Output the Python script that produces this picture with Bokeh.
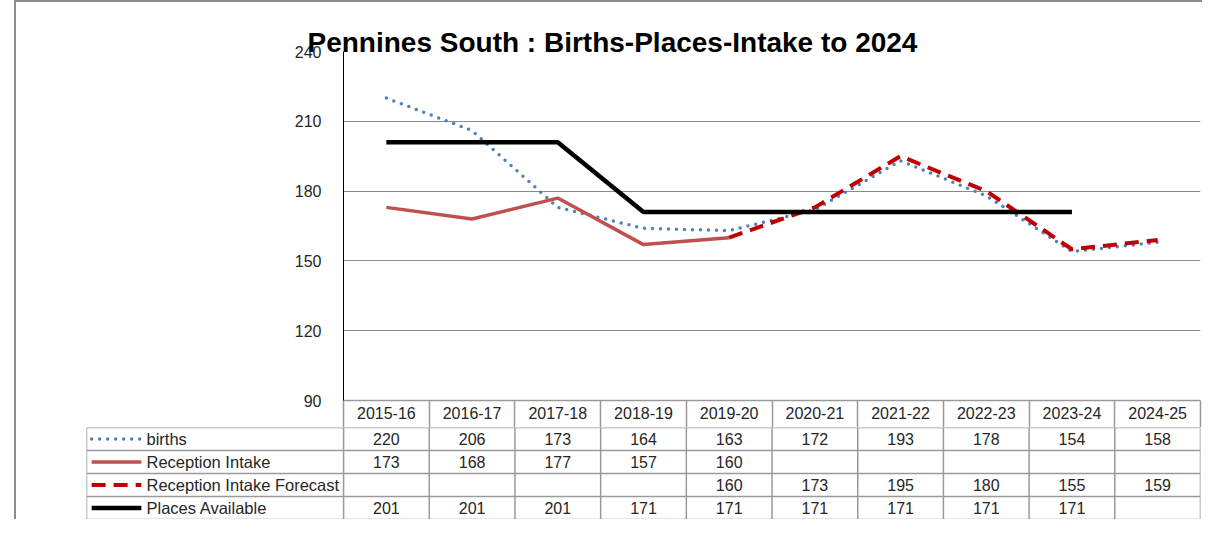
import numpy as np
from bokeh.plotting import figure
from bokeh.models import Range1d, FixedTicker, Spacer
from bokeh.layouts import column, row
from bokeh.embed import file_html
from bokeh.resources import INLINE
from bokeh.core.properties import value

# ---- data ----
periods = ["2015-16", "2016-17", "2017-18", "2018-19", "2019-20",
           "2020-21", "2021-22", "2022-23", "2023-24", "2024-25"]
births = [220, 206, 173, 164, 163, 172, 193, 178, 154, 158]
intake = [173, 168, 177, 157, 160, None, None, None, None, None]
forecast = [None, None, None, None, 160, 173, 195, 180, 155, 159]
places = [201, 201, 201, 171, 171, 171, 171, 171, 171, None]
y_ticks = [90, 120, 150, 180, 210, 240]
series_names = ["births", "Reception Intake", "Reception Intake Forecast", "Places Available"]
title_text = "Pennines South : Births-Places-Intake to 2024"

FONT = "Liberation Sans"
TXT = "#262626"
GRID = "#8a8a8a"
TGRID = "#9a9a9a"

styles = [
    dict(line_color="#4F81BD", line_width=3.5, line_dash="0 8", line_cap="round"),
    dict(line_color="#C0504D", line_width=3.5),
    dict(line_color="#C00000", line_width=4, line_dash="14 8"),
    dict(line_color="#000000", line_width=4.5),
]
series = [births, intake, forecast, places]

n = len(periods)
xc = [i + 0.5 for i in range(n)]           # centre of each period column
bounds = list(range(n + 1))                # column boundaries


def arr(v):
    return np.array([np.nan if x is None else x for x in v], dtype=float)


def no_frame_align(fig):
    if "frame_align" in fig.properties():
        fig.frame_align = False


W = 1186
# ---- main chart (with header row of the data table as its x axis) ----
p = figure(width=W, height=425, x_range=Range1d(0, n), y_range=Range1d(90, 240),
           output_backend="svg", toolbar_location=None,
           min_border_left=327, min_border_right=2, min_border_top=49, min_border_bottom=27)
no_frame_align(p)
p.xgrid.visible = False
p.ygrid.grid_line_color = GRID
p.ygrid.grid_line_width = 1
p.yaxis.ticker = FixedTicker(ticks=y_ticks)
p.yaxis.axis_line_color = "#000000"
p.yaxis.major_tick_line_color = None
p.yaxis.minor_tick_line_color = None
p.yaxis.major_label_text_font = FONT
p.yaxis.major_label_text_font_size = "16px"
p.yaxis.major_label_text_color = TXT
p.yaxis.major_label_standoff = 16

p.xaxis.ticker = FixedTicker(ticks=xc, minor_ticks=bounds)
p.xaxis.major_label_overrides = {x: lab for x, lab in zip(xc, periods)}
p.xaxis.major_tick_line_color = None
p.xaxis.major_tick_out = 0
p.xaxis.major_tick_in = 0
p.xaxis.minor_tick_line_color = TGRID
p.xaxis.minor_tick_line_width = 1.5
p.xaxis.minor_tick_out = 27
p.xaxis.minor_tick_in = 0
p.xaxis.axis_line_color = TGRID
p.xaxis.axis_line_width = 1.5
p.xaxis.major_label_standoff = -21
p.xaxis.major_label_text_font = FONT
p.xaxis.major_label_text_font_size = "16px"
p.xaxis.major_label_text_color = TXT

p.outline_line_color = None
p.background_fill_color = "white"
p.border_fill_color = "white"

p.title.text = title_text
p.title.align = "left"
p.title.offset = -36
p.title.standoff = -12
p.title.text_font = FONT
p.title.text_font_style = "bold"
p.title.text_font_size = "28px"
p.title.text_color = "#000000"

for s, st in zip(series, styles):
    p.line(x=xc, y=arr(s), **st)

# ---- data table body ----
nr = len(series)
t_h = 92
t = figure(width=W, height=t_h, x_range=Range1d(-3, n), y_range=Range1d(nr, 0),
           output_backend="svg", toolbar_location=None, x_axis_type=None, y_axis_type=None,
           min_border_left=70, min_border_right=2, min_border_top=0, min_border_bottom=0)
no_frame_align(t)
t.grid.visible = False
t.outline_line_color = None
t.border_fill_color = "white"

hy = list(range(nr + 1))
t.segment(x0=[-3] * len(hy), y0=hy, x1=[n] * len(hy), y1=hy, line_color=TGRID, line_width=1.5)
vx = [-3] + bounds
t.segment(x0=vx, y0=[0] * len(vx), x1=vx, y1=[nr] * len(vx), line_color=TGRID, line_width=1.5)

for r, (s, st, name) in enumerate(zip(series, styles, series_names)):
    xs = [xc[i] for i, v in enumerate(s) if v is not None]
    vs = [str(v) for v in s if v is not None]
    t.text(x=xs, y=[r + 0.5] * len(xs), text=vs, text_align="center", text_baseline="middle",
           text_font=value(FONT), text_font_size="16px", text_color=TXT)
    t.line(x=[-2.94, -2.36], y=[r + 0.5, r + 0.5], **st)
    t.text(x=[-2.30], y=[r + 0.5], text=[name], text_align="left", text_baseline="middle",
           text_font=value(FONT), text_font_size="16.5px", text_color=TXT)

inner = column(p, t, styles={"border-left": "2px solid #8c8c8c", "border-top": "2px solid #8c8c8c"})
layout = row(Spacer(width=14, height=10), inner)

open("out.html", "w").write(file_html(layout, INLINE))
